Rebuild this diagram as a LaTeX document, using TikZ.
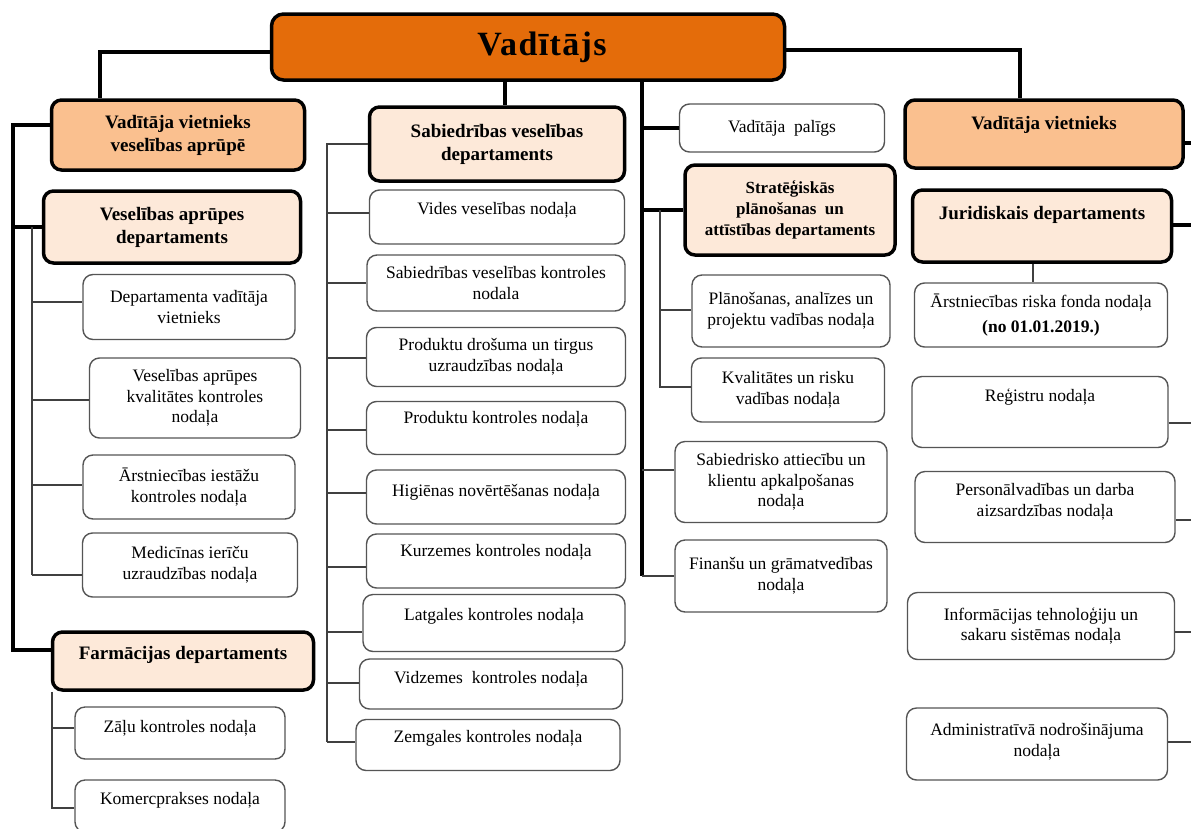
\documentclass[tikz,border=0pt]{standalone}
\usepackage{fontspec}
\setmainfont{Liberation Serif}
\usetikzlibrary{positioning}

\definecolor{chieforange}{RGB}{228,108,10}
\definecolor{deputypeach}{RGB}{250,192,143}
\definecolor{deptcream}{RGB}{253,233,217}
\definecolor{unitgray}{RGB}{85,85,85}

\begin{document}
\begin{tikzpicture}[x=1pt, y=-1pt,
        box/.style={rounded corners=10pt, align=center, inner sep=2pt},
        head/.style={box, draw=black, line width=3.5pt, font=\bfseries\fontsize{19}{23}\selectfont},
        chief/.style={head, fill=chieforange, rounded corners=12pt, font=\bfseries\fontsize{34}{40}\selectfont\addfontfeatures{LetterSpace=4}},
        deputy/.style={head, fill=deputypeach},
        dept/.style={head, fill=deptcream},
        unitbox/.style={box, draw=unitgray, line width=1.4pt, fill=white, font=\fontsize{17.5}{20.5}\selectfont},
        wh/.style args={#1x#2}{minimum width=#1pt, minimum height=#2pt},
        lift/.style={text depth=#1pt},
        link/.style={line width=4pt},
        sublink/.style={line width=1.3pt, draw=black!75}
    ]

    \path[use as bounding box, fill=white] (0,0) rectangle (1191,828);
    \coordinate (rim) at (1191,0);

    % Top
    \node[chief, wh=513x66] (vad) at (528,47) {\hspace*{28pt}Vadītājs};

    % Left column
    \node[deputy, wh=253x70] (vvap) at (178,135) {Vadītāja vietnieks\\veselības aprūpē};
    \node[dept, wh=257x72] (vapd) at (172,227) {Veselības aprūpes\\departaments};
    \node[unitbox, wh=212x65] (dvv) at (189,307) {Departamenta vadītāja\\vietnieks};
    \node[unitbox, wh=211x80] (vakk) at (195,398) {Veselības aprūpes\\kvalitātes kontroles\\nodaļa};
    \node[unitbox, wh=212x64] (aikn) at (189,487) {Ārstniecības iestāžu\\kontroles nodaļa};
    \node[unitbox, wh=215x64] (miun) at (190,565) {Medicīnas ierīču\\uzraudzības nodaļa};
    \node[dept, wh=261x58, lift=17] (farm) at (183,661) {Farmācijas departaments};
    \node[unitbox, wh=210x52, lift=14] (zkn) at (180,733) {Zāļu kontroles nodaļa};
    \node[unitbox, wh=210x52, lift=16] (kpn) at (180,806) {Komercprakses nodaļa};

    % Middle column
    \node[dept, wh=255x74] (sabd) at (497,144) {Sabiedrības veselības\\departaments};
    \node[unitbox, wh=255x54, lift=18] (vides) at (497,217) {Vides veselības nodaļa};
    \node[unitbox, wh=258x56] (svk) at (496,283) {Sabiedrības veselības kontroles\\nodala};
    \node[unitbox, wh=259x59] (pdt) at (496,357) {Produktu drošuma un tirgus\\uzraudzības nodaļa};
    \node[unitbox, wh=259x53, lift=21] (pkn) at (496,428) {Produktu kontroles nodaļa};
    \node[unitbox, wh=259x54, lift=14] (hnn) at (496,497) {Higiēnas novērtēšanas nodaļa};
    \node[unitbox, wh=259x54, lift=22] (kkn) at (496,561) {Kurzemes kontroles nodaļa};
    \node[unitbox, wh=262x57, lift=17] (lkn) at (494,623) {Latgales kontroles nodaļa};
    \node[unitbox, wh=263x50, lift=14] (vikn) at (491,684) {Vidzemes~ kontroles nodaļa};
    \node[unitbox, wh=264x51, lift=17] (zekn) at (488,745) {Zemgales kontroles nodaļa};

    % Assistant and strategy column
    \node[unitbox, wh=205x48] (pal) at (782,128) {Vadītāja~ palīgs};
    \node[dept, wh=210x90, font=\bfseries\fontsize{17}{21}\selectfont] (strat) at (790,210)
        {Stratēģiskās\\plānošanas~ un\\attīstības departaments};
    \node[unitbox, wh=198x72] (plan) at (791,311) {Plānošanas, analīzes un\\projektu vadības nodaļa};
    \node[unitbox, wh=193x64] (kval) at (788,390) {Kvalitātes un risku\\vadības nodaļa};
    \node[unitbox, wh=212x81] (sak) at (781,482) {Sabiedrisko attiecību un\\klientu apkalpošanas\\nodaļa};
    \node[unitbox, wh=212x72] (fgn) at (781,576) {Finanšu un grāmatvedības\\nodaļa};

    % Right column
    \node[deputy, wh=278x68, lift=23] (vvr) at (1044,134) {Vadītāja vietnieks};
    \node[dept, wh=259x72, lift=27] (jur) at (1042,226) {Juridiskais departaments};
    \node[unitbox, wh=253x64] (arf) at (1041,315) {Ārstniecības riska fonda nodaļa\\[4pt]\textbf{(no 01.01.2019.)}};
    \node[unitbox, wh=256x71, lift=33] (reg) at (1040,412) {Reģistru nodaļa};
    \node[unitbox, wh=260x71, lift=14] (pers) at (1045,507) {Personālvadības un darba\\aizsardzības nodaļa};
    \node[unitbox, wh=267x67] (info) at (1041,626) {Informācijas tehnoloģiju un\\sakaru sistēmas nodaļa};
    \node[unitbox, wh=261x72, lift=8] (adm) at (1037,744) {Administratīvā nodrošinājuma\\nodaļa};

    % Links from the top
    \draw[link] (vad.west |- 0,52) -| (100,0 |- vvap.north);
    \draw[link] (vad.east |- 0,50) -| (1020,0 |- vvr.north);
    \draw[link] (505,0 |- vad.south) -- (505,0 |- sabd.north);
    \draw[link] (642,0 |- vad.south) -- (642,0 |- fgn.west);

    % Left
    \draw[link] (vvap.west |- 0,125) -- (13,125) -- (13,650) -- (farm.west |- 0,650);
    \draw[link] (13,0 |- vapd.west) -- (vapd.west);
    \draw[sublink] (32,0 |- vapd.west) -- (32,575);
    \foreach \n/\y in {dvv/302, vakk/400, aikn/485, miun/575}
        \draw[sublink] (32,\y) -- (\n.west |- 0,\y);
    \draw[sublink] (52,0 |- farm.south) -- (52,808) -- (kpn.west |- 0,808);
    \draw[sublink] (52,728) -- (zkn.west |- 0,728);

    % Middle
    \draw[sublink] (sabd.west) -- (327,0 |- sabd.west) -- (327,742);
    \foreach \n/\y in {vides/213, svk/283, pdt/358, pkn/430, hnn/493, kkn/567, lkn/632, vikn/683, zekn/742}
        \draw[sublink] (327,\y) -- (\n.west |- 0,\y);

    % Assistant and strategy
    \draw[link] (642,0 |- pal.west) -- (pal.west);
    \draw[link] (642,0 |- strat.west) -- (strat.west);
    \draw[sublink] (660,0 |- strat.west) -- (660,387) -- (kval.west |- 0,387);
    \draw[sublink] (660,310) -- (plan.west |- 0,310);
    \draw[sublink, line width=1.8pt] (642,470) -- (sak.west |- 0,470);
    \draw[sublink, line width=1.8pt] (642,0 |- fgn.west) -- (fgn.west);

    % Right
    \draw[link] (vvr.east |- 0,143) -- (rim |- 0,143);
    \draw[link] (jur.east |- 0,225) -- (rim |- 0,225);
    \draw[sublink] (1033,0 |- jur.south) -- (1033,0 |- arf.north);
    \foreach \n/\y in {reg/423, pers/520, info/632, adm/742}
        \draw[sublink] (\n.east |- 0,\y) -- (rim |- 0,\y);

\end{tikzpicture}
\end{document}
